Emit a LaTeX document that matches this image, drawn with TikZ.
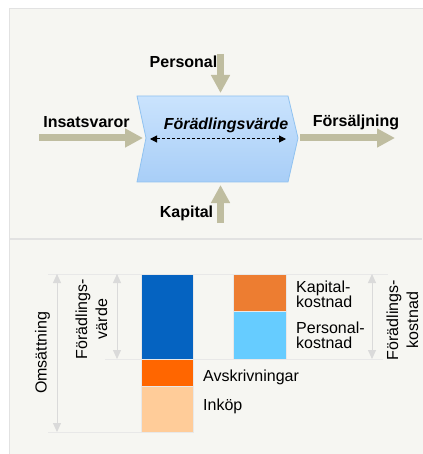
\documentclass[tikz,border=0pt]{standalone}
\usepackage{fontspec}
\setmainfont{Liberation Sans}
\usetikzlibrary{positioning,arrows.meta}

\definecolor{panelbg}{HTML}{F6F6F2}
\definecolor{panelline}{HTML}{E2E2E2}
\definecolor{arrowtan}{HTML}{BFBDA0}
\definecolor{proctop}{HTML}{CAE3FD}
\definecolor{procbot}{HTML}{A8CEF7}
\definecolor{procline}{HTML}{90C2F0}
\definecolor{fvblue}{HTML}{0563C1}
\definecolor{avsorange}{HTML}{FF6600}
\definecolor{inkpeach}{HTML}{FFCC99}
\definecolor{kaporange}{HTML}{ED7D31}
\definecolor{perscyan}{HTML}{66CCFF}
\definecolor{guidegray}{HTML}{E8E8E8}
\definecolor{dimgray}{HTML}{DADADA}

\tikzset{
  bigarrow/.style={draw=arrowtan, line width=7pt, -{Triangle[width=18pt,length=18pt]}},
  fvarrow/.style={line width=1pt, dash pattern=on 3pt off 2pt,
    {Triangle[width=7pt,length=7pt]}-{Triangle[width=7pt,length=7pt]}},
  toplbl/.style={inner sep=0pt, anchor=base, font=\bfseries\fontsize{16}{19}\selectfont},
  lbl/.style={inner sep=0pt, font=\fontsize{16}{15}\selectfont, align=left},
  sidelbl/.style={inner sep=0pt, rotate=90, font=\fontsize{16}{20}\selectfont, align=center},
  bar/.style={anchor=north west, inner sep=0pt, outer sep=0pt, minimum width=52pt,
    draw=guidegray, line width=0.8pt},
  guide/.style={draw=guidegray, line width=0.8pt},
  dimarrow/.style={draw=dimgray, line width=0.8pt,
    {Triangle[width=8pt,length=9pt]}-{Triangle[width=8pt,length=9pt]}}
}

\begin{document}
\begin{tikzpicture}[x=1pt,y=-1pt]
 \useasboundingbox (0,0) rectangle (422,454);
 \fill[white] (0,0) rectangle (422,454);
 \fill[panelbg, draw=panelline] (9,8) rectangle (424,456);
 \draw[panelline, line width=1.5pt] (9,239) -- (422,239);

 \shade[top color=proctop, bottom color=procbot, draw=procline, line width=0.8pt]
  (137,96) coordinate (proc-nw) -- (288,96) -- (298,138) coordinate (proc-e)
  -- (288,182) -- (137,182) -- (146,138) coordinate (proc-w) -- cycle;

 \coordinate (pers-top) at (220.5,54);
 \coordinate (pers-tip) at (220.5,93);
 \coordinate (kap-bot) at (220.5,223);
 \coordinate (kap-tip) at (220.5,185);
 \coordinate (ins-start) at (39,138);
 \coordinate (ins-tip) at (143,138);
 \coordinate (fsg-start) at (300,138);
 \coordinate (fsg-tip) at (395,138);
 \coordinate (fv-l) at (150,139);
 \coordinate (fv-r) at (286,139);

 \draw[bigarrow] (pers-top) -- (pers-tip);
 \draw[bigarrow] (kap-bot) -- (kap-tip);
 \draw[bigarrow] (ins-start) -- (ins-tip);
 \draw[bigarrow] (fsg-start) -- (fsg-tip);
 \draw[fvarrow] (fv-l) -- (fv-r);

 \node[toplbl] (perslbl) at (183.5,68) {Personal};
 \node[toplbl] (kaplbl) at (186.5,217) {Kapital};
 \node[toplbl] (inslbl) at (86.5,128) {Insatsvaror};
 \node[toplbl] (fsglbl) at (356,127) {Försäljning};
 \node[toplbl, font=\bfseries\itshape\fontsize{16}{19}\selectfont] (fvlbl) at (226,130) {Förädlingsvärde};

 \draw[guide] (48,274) -- (388,274);
 \draw[guide] (105,359) -- (383,359);
 \draw[guide] (48,432) -- (141,432);

 \node[bar, fill=fvblue, minimum height=85pt] (fvbar) at (141,274) {};
 \node[bar, fill=avsorange, minimum height=27pt, below=0pt of fvbar] (avsbar) {};
 \node[bar, fill=inkpeach, minimum height=46pt, below=0pt of avsbar] (inkbar) {};
 \node[bar, fill=kaporange, minimum width=53pt, minimum height=37pt] (kapbar) at (233,274) {};
 \node[bar, fill=perscyan, minimum width=53pt, minimum height=48pt, below=0pt of kapbar] (persbar) {};

 \node[lbl, anchor=west] (kapkostlbl) at (296,294) {Kapital-\\kostnad};
 \node[lbl, anchor=west] (perskostlbl) at (296,335.5) {Personal-\\kostnad};
 \node[lbl, anchor=base west] (avslbl) at (203,381.5) {Avskrivningar};
 \node[lbl, anchor=base west] (inklbl) at (203,410) {Inköp};

 \coordinate (oms-top) at (57,274);
 \coordinate (oms-bot) at (57,432);
 \coordinate (fvd-top) at (117,274);
 \coordinate (fvd-bot) at (117,359);
 \coordinate (fvk-top) at (372,274);
 \coordinate (fvk-bot) at (372,359);
 \draw[dimarrow] (oms-top) -- (oms-bot);
 \draw[dimarrow] (fvd-top) -- (fvd-bot);
 \draw[dimarrow] (fvk-top) -- (fvk-bot);

 \node[sidelbl] (omslbl) at (42.5,353) {Omsättning};
 \node[sidelbl] (fvdlbl) at (91.5,319) {Förädlings-\\värde};
 \node[sidelbl] (fvklbl) at (402.5,320) {Förädlings-\\kostnad};
\end{tikzpicture}
\end{document}
